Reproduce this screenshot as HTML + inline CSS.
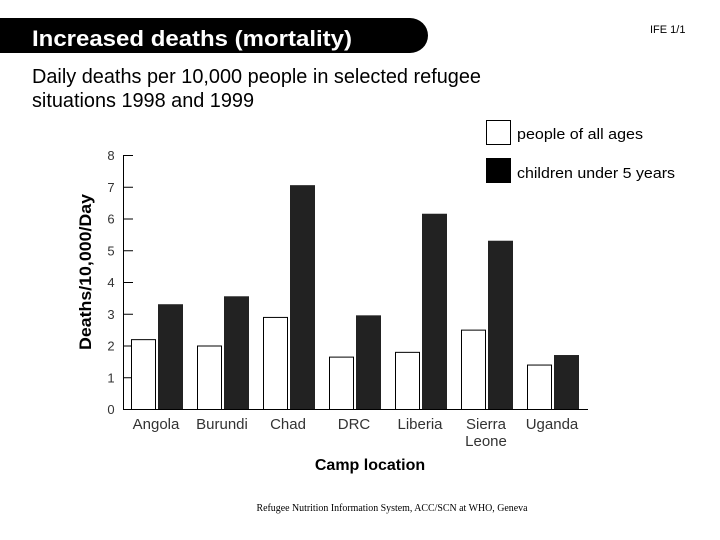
<!DOCTYPE html>
<html><head><meta charset="utf-8"><style>
body{margin:0;width:720px;height:540px;background:#fff;overflow:hidden;font-family:"Liberation Sans",sans-serif}
</style></head><body>
<svg width="720" height="540" style="position:absolute;left:0;top:0">
<path d="M0 18 H410 A18 17.5 0 0 1 410 53 H0 Z" fill="#000"/>
<text x="32" y="46" fill="#fff" font-size="22" font-weight="bold" textLength="320" lengthAdjust="spacingAndGlyphs">Increased deaths (mortality)</text>
<text x="650" y="33" font-size="11">IFE 1/1</text>
<text x="32" y="83" font-size="20" textLength="449" lengthAdjust="spacingAndGlyphs">Daily deaths per 10,000 people in selected refugee</text>
<text x="32" y="107" font-size="20" textLength="222" lengthAdjust="spacingAndGlyphs">situations 1998 and 1999</text>
<rect x="486.5" y="120.5" width="24" height="24" fill="#fff" stroke="#000"/>
<text x="517" y="139" font-size="15" textLength="126" lengthAdjust="spacingAndGlyphs">people of all ages</text>
<rect x="486" y="158" width="25" height="25" fill="#000"/>
<text x="517" y="178" font-size="15" textLength="158" lengthAdjust="spacingAndGlyphs">children under 5 years</text>
<text transform="translate(91,272) rotate(-90)" text-anchor="middle" font-size="17" font-weight="bold" textLength="156" lengthAdjust="spacingAndGlyphs">Deaths/10,000/Day</text>
<text x="370" y="470" text-anchor="middle" font-size="16" font-weight="bold">Camp location</text>
<text x="392" y="511" text-anchor="middle" font-size="10" font-family="Liberation Serif,serif" textLength="271" lengthAdjust="spacingAndGlyphs">Refugee Nutrition Information System, ACC/SCN at WHO, Geneva</text>
<g id="plot"></g>
</svg>
<script>
const categories=[["Angola"],["Burundi"],["Chad"],["DRC"],["Liberia"],["Sierra","Leone"],["Uganda"]];
const allAges=[2.2,2.0,2.9,1.65,1.8,2.5,1.4];
const under5=[3.3,3.55,7.05,2.95,6.15,5.3,1.7];
const yTicks=[0,1,2,3,4,5,6,7,8];
const NS="http://www.w3.org/2000/svg";
const g=document.getElementById('plot');
const x0=123,y0=409,yTop=155,ymax=8;
const y=v=>y0-(y0-yTop)*v/ymax;
const gx=i=>131+i*66;
function mk(t,a){const e=document.createElementNS(NS,t);for(const k in a)e.setAttribute(k,a[k]);g.appendChild(e);return e;}
let ax=mk('path',{d:`M${x0+.5} ${yTop} V${y0+.5} H588`,stroke:'#000',fill:'none'});


yTicks.forEach(t=>{
 let l=mk('line',{x1:x0,x2:x0+10,y1:y(t)+.5,y2:y(t)+.5,stroke:'#000'});
 
 
 let tx=mk('text',{x:111,y:y(t)+5,'text-anchor':'middle','font-size':13,fill:'#333'});
 tx.textContent=t;
 
 
});
categories.forEach((c,i)=>{
 let w=mk('rect',{x:gx(i)+.5,y:y(allAges[i])+.5,width:24,height:y0-y(allAges[i]),fill:'#fff',stroke:'#000'});
 
 
 let b=mk('rect',{x:gx(i)+27,y:y(under5[i]),width:25,height:y0-y(under5[i]),fill:'#222'});
 
 
 c.forEach((s,j)=>{
  let t=mk('text',{x:gx(i)+25,y:429+j*17,'text-anchor':'middle','font-size':15,fill:'#333'});
  t.textContent=s;
  
  
 });
});
</script>
</body></html>
